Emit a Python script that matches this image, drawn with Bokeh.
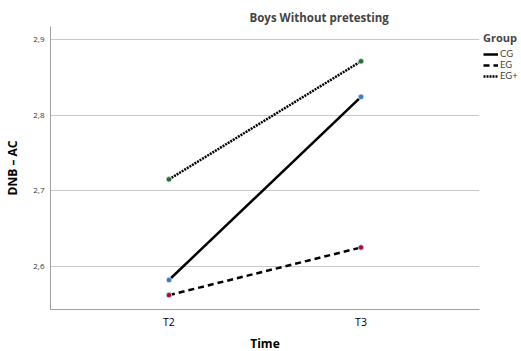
from bokeh.plotting import figure
from bokeh.models import FactorRange, Range1d, Legend, LegendItem, FixedTicker, ColumnDataSource
from bokeh.embed import file_html
from bokeh.resources import INLINE

times = ["T2", "T3"]
groups = ["CG", "EG", "EG+"]
cg = [2.582, 2.824]
eg = [2.562, 2.625]
egp = [2.715, 2.871]
dashes = ["solid", "6 4", "2 1"]
marker_colors = ["#3b7dc4", "#a3142f", "#2b6e2b"]
y_ticks = [2.6, 2.7, 2.8, 2.9]

FONT = "Open Sans"

p = figure(frame_width=429, frame_height=283, output_backend="svg", toolbar_location=None,
           x_range=FactorRange(factors=times, range_padding=0.117),
           y_range=Range1d(2.543, 2.917),
           min_border_left=50, min_border_right=0, min_border_bottom=33, min_border_top=26)
p.outline_line_color = None
p.background_fill_color = "white"
p.border_fill_color = "white"

p.title.text = "Boys Without pretesting"
p.title.text_font = FONT
p.title.text_font_size = "11.5px"
p.title.text_font_style = "bold"
p.title.align = "left"
p.title.offset = 199
p.title.standoff = 4

items = []
for vals, g, d, c in zip([cg, eg, egp], groups, dashes, marker_colors):
    src = ColumnDataSource(dict(x=times, y=vals))
    r = p.line("x", "y", source=src, line_color="black", line_width=2.5, line_dash=d)
    p.scatter("x", "y", source=src, size=5.5, fill_color=c, line_color="#d8e4f0", line_width=0.8)
    items.append(LegendItem(label=g, renderers=[r]))

p.xgrid.grid_line_color = None
p.ygrid.grid_line_color = "#c8c8c8"
p.ygrid.grid_line_width = 1
p.yaxis.ticker = FixedTicker(ticks=y_ticks)
p.yaxis.major_label_overrides = {t: f"{t:.1f}".replace(".", ",") for t in y_ticks}

for ax in (p.xaxis[0], p.yaxis[0]):
    ax.axis_line_color = "#a0a0a0"
    ax.axis_line_width = 1
    ax.major_tick_line_color = None
    ax.minor_tick_line_color = None
    ax.major_tick_out = 0
    ax.major_tick_in = 0
    ax.minor_tick_out = 0
    ax.minor_tick_in = 0
    ax.major_label_text_font = FONT
    ax.axis_label_text_font = FONT
    ax.axis_label_text_font_style = "bold"
    ax.axis_label_text_font_size = "12px"
    ax.axis_label_text_color = "black"

p.yaxis.major_label_text_font_size = "8px"
p.yaxis.major_label_text_color = "#333333"
p.yaxis.major_label_standoff = 6
p.yaxis.axis_label = "DNB – AC"
p.yaxis.axis_label_standoff = 9

p.xaxis.major_label_text_font_size = "10.5px"
p.xaxis.major_label_text_color = "black"
p.xaxis.major_label_standoff = 5
p.xaxis.axis_label = "Time"
p.xaxis.axis_label_standoff = 3

legend = Legend(items=items, location="top_left", title="Group",
                title_text_font=FONT, title_text_font_style="bold", title_text_font_size="11px",
                label_text_font="Lato", label_text_font_size="9.5px",
                glyph_width=15, glyph_height=10, label_height=10, spacing=0,
                padding=2, margin=4, label_standoff=2, title_standoff=3,
                background_fill_alpha=0, border_line_color=None)
p.add_layout(legend, "right")

open("out.html", "w").write(file_html(p, INLINE))
